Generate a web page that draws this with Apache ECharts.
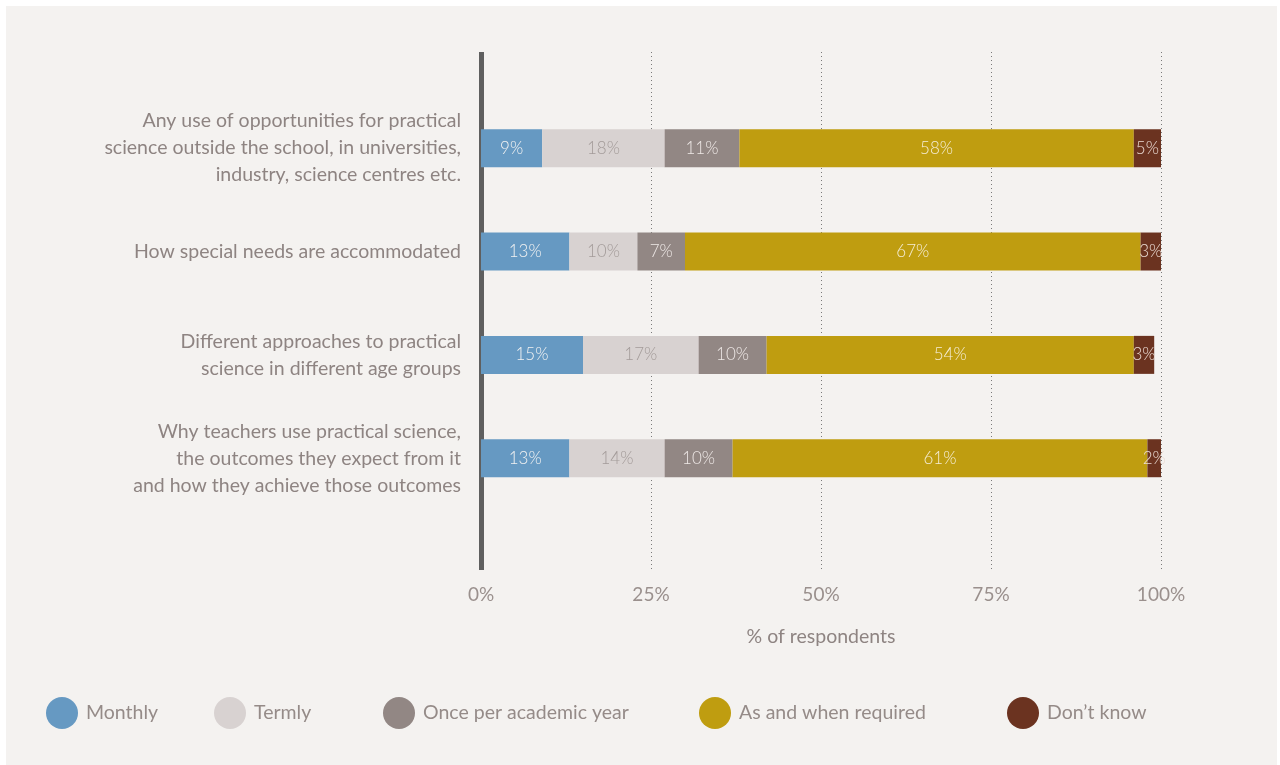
<!DOCTYPE html>
<html>
<head>
<meta charset="utf-8">
<script src="https://cdn.jsdelivr.net/npm/echarts@6/dist/echarts.min.js"></script>
<style>
  html, body { margin: 0; padding: 0; background: #ffffff; }
  #chart { position: absolute; left: 6px; top: 6px; width: 1271px; height: 759px; background: #f4f2f0; }
</style>
</head>
<body>
<div id="chart"></div>
<script>
// Survey topics (top to bottom)
const categories = [
  'Any use of opportunities for practical\nscience outside the school, in universities,\nindustry, science centres etc.',
  'How special needs are accommodated',
  'Different approaches to practical\nscience in different age groups',
  'Why teachers use practical science,\nthe outcomes they expect from it\nand how they achieve those outcomes'
];

// Response frequencies, % of respondents
const monthly   = [9, 13, 15, 13];
const termly    = [18, 10, 17, 14];
const onceYear  = [11, 7, 10, 10];
const asNeeded  = [58, 67, 54, 61];
const dontKnow  = [5, 3, 3, 2];

const seriesNames = ['Monthly', 'Termly', 'Once per academic year', 'As and when required', 'Don\u2019t know'];
const seriesData = [monthly, termly, onceYear, asNeeded, dontKnow];
const colors = ['#6699c2', '#d8d2d1', '#928784', '#bf9d10', '#6b3320'];
const labelColors = ['#f2f2f2', '#a39b99', '#eee8e6', '#f5edd6', '#eadbd3'];

const xTicks = [0, 25, 50, 75, 100];

const FONT = 'Lato, "Open Sans", sans-serif';
const TEXT = '#8e8482';

const chart = echarts.init(document.getElementById('chart'));

const legendLeft = [40, 208, 377, 693, 1001];

chart.setOption({
  animation: false,
  textStyle: { fontFamily: FONT },
  grid: [
    // frame: value axis with dotted gridlines and the heavy baseline
    { left: 475, right: 116, top: 46, height: 518 },
    // bars
    { left: 475, right: 116, top: 90.5, height: 413.4 }
  ],
  xAxis: [
    {
      gridIndex: 0, type: 'value', min: 0, max: 100, interval: 25,
      axisLine: { show: false }, axisTick: { show: false },
      axisLabel: {
        formatter: v => v + '%', color: '#9a908d', fontSize: 19, margin: 15,
        customValues: xTicks
      },
      splitLine: { show: true, lineStyle: { type: [1, 3], color: '#7a7a7a', width: 1 } },
      name: '% of respondents', nameLocation: 'middle', nameGap: 57,
      nameTextStyle: { color: '#8e8482', fontSize: 19.5 }
    },
    {
      gridIndex: 1, type: 'value', min: 0, max: 100, show: false
    }
  ],
  yAxis: [
    {
      gridIndex: 0, type: 'value', min: 0, max: 1, offset: 2.5,
      axisLine: { show: true, lineStyle: { color: '#5f5f5f', width: 5, cap: 'butt' } },
      axisTick: { show: false }, axisLabel: { show: false }, splitLine: { show: false }
    },
    {
      gridIndex: 1, type: 'category', data: categories, inverse: true,
      axisLine: { show: false }, axisTick: { show: false },
      axisLabel: { color: TEXT, fontSize: 19.5, lineHeight: 27, margin: 20, align: 'right' }
    }
  ],
  legend: seriesNames.map((n, i) => ({
    data: [n], left: legendLeft[i], top: 691, padding: 0,
    icon: 'circle', itemWidth: 32, itemHeight: 32,
    textStyle: { color: '#958b88', fontSize: 19.5, padding: [0, 0, 0, 3] },
    selectedMode: false
  })),
  series: seriesNames.map((n, i) => ({
    name: n, type: 'bar', stack: 'total',
    xAxisIndex: 1, yAxisIndex: 1,
    data: seriesData[i], barWidth: 38,
    itemStyle: { color: colors[i] },
    label: {
      show: true, position: 'inside', formatter: '{c}%',
      color: labelColors[i], fontSize: 17, fontWeight: 300, fontFamily: FONT
    }
  }))
});
</script>
</body>
</html>
